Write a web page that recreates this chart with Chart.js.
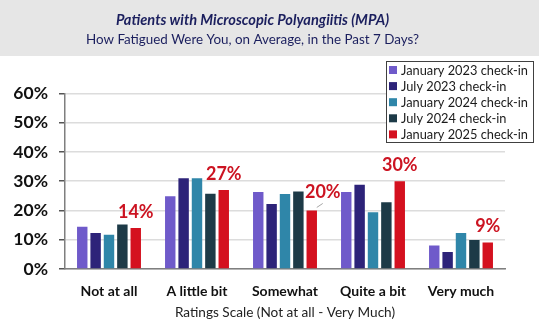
<!DOCTYPE html>
<html>
<head>
<meta charset="utf-8">
<script src="https://cdn.jsdelivr.net/npm/chart.js@4.4.1/dist/chart.umd.min.js"></script>
<style>
    html, body { margin: 0; padding: 0; background: #fff; }
    #wrap { position: relative; width: 539px; height: 331px; }
</style>
</head>
<body>
<div id="wrap"><canvas id="chart"></canvas></div>
<script>
// --- Data ---
const categories = ['Not at all', 'A little bit', 'Somewhat', 'Quite a bit', 'Very much'];
const seriesNames = [
    'January 2023 check-in',
    'July 2023 check-in',
    'January 2024 check-in',
    'July 2024 check-in',
    'January 2025 check-in'
];
const jan2023 = [14.4, 24.9, 26.3, 26.3, 8.0];
const jul2023 = [12.3, 31.0, 22.2, 28.8, 5.8];
const jan2024 = [11.7, 31.0, 25.6, 19.4, 12.3];
const jul2024 = [15.2, 25.7, 26.5, 22.8, 9.9];
const jan2025 = [14, 27, 20, 30, 9];
const yTicks = [0, 10, 20, 30, 40, 50, 60];

const colors = ['#6f5aca', '#2d2379', '#2f86a9', '#1d3a47', '#d4111f'];
const FONT = 'Lato, "Open Sans", sans-serif';

// --- Plugins ---
// grey header band behind the titles
const headerBand = {
    id: 'headerBand',
    beforeDraw(chart) {
        const ctx = chart.ctx;
        ctx.save();
        ctx.fillStyle = '#e6e6e6';
        ctx.fillRect(0, 0, chart.width, 56);
        ctx.restore();
    }
};

// red value labels on the latest check-in only
const valueLabels = {
    id: 'valueLabels',
    afterDatasetsDraw(chart) {
        const last = chart.data.datasets.length - 1;
        const meta = chart.getDatasetMeta(last);
        const ctx = chart.ctx;
        ctx.save();
        ctx.font = 'bold 18px ' + FONT;
        ctx.fillStyle = '#cc1422';
        ctx.textAlign = 'center';
        ctx.textBaseline = 'middle';
        meta.data.forEach((bar, i) => {
            const v = chart.data.datasets[last].data[i];
            let x = bar.x;
            let y = bar.y - 16;
            if (i === 2) {
                // label nudged right with a small leader line
                x += 11;
                y -= 2;
                ctx.strokeStyle = '#a6a6a6';
                ctx.lineWidth = 1;
                ctx.beginPath();
                ctx.moveTo(bar.x + 5, bar.y - 3);
                ctx.lineTo(bar.x + 11, bar.y - 7);
                ctx.stroke();
            }
            ctx.fillText(Math.round(v) + '%', x, y);
        });
        ctx.restore();
    }
};

// boxed legend in the top right corner
const boxLegend = {
    id: 'boxLegend',
    afterDraw(chart) {
        const ctx = chart.ctx;
        const left = 386.5, top = 61.5, w = 147, h = 81;
        ctx.save();
        ctx.fillStyle = '#fff';
        ctx.fillRect(left, top, w, h);
        ctx.strokeStyle = '#404040';
        ctx.lineWidth = 1;
        ctx.strokeRect(left, top, w, h);
        ctx.font = '12.8px ' + FONT;
        ctx.textBaseline = 'middle';
        ctx.textAlign = 'left';
        chart.data.datasets.forEach((ds, i) => {
            const y = 70 + i * 16.1;
            ctx.fillStyle = ds.backgroundColor;
            ctx.fillRect(389, y - 4, 8, 8);
            ctx.fillStyle = '#1a1a1a';
            ctx.fillText(ds.label, 401, y + 0.5);
        });
        ctx.restore();
    }
};

const series = [jan2023, jul2023, jan2024, jul2024, jan2025];

new Chart(document.getElementById('chart'), {
    type: 'bar',
    data: {
        labels: categories,
        datasets: series.map((data, i) => ({
            label: seriesNames[i],
            data: data,
            backgroundColor: colors[i],
            borderWidth: 0,
            categoryPercentage: 0.76,
            barPercentage: 0.78
        }))
    },
    options: {
        responsive: true,
        maintainAspectRatio: false,
        animation: false,
        layout: { padding: { left: 0, right: 34, top: 0, bottom: 10 } },
        plugins: {
            legend: { display: false },
            tooltip: { enabled: false },
            title: {
                display: true,
                text: 'Patients with Microscopic Polyangiitis (MPA)',
                color: '#1b1f5e',
                font: { family: FONT, size: 14.6, weight: 'bold', style: 'italic' },
                padding: { top: 12, bottom: 2 }
            },
            subtitle: {
                display: true,
                text: 'How Fatigued Were You, on Average, in the Past 7 Days?',
                color: '#1b1f5e',
                font: { family: FONT, size: 13.4 },
                padding: { top: 0, bottom: 46 }
            }
        },
        scales: {
            x: {
                grid: { display: false, drawTicks: false },
                border: { display: true, color: '#7f7f7f', width: 1.5 },
                ticks: {
                    color: '#111',
                    font: { family: FONT, size: 14, weight: 'bold' },
                    padding: 14
                },
                title: {
                    display: true,
                    text: 'Ratings Scale (Not at all - Very Much)',
                    color: '#222',
                    font: { family: FONT, size: 13.6 },
                    padding: { top: -9, bottom: 0 }
                }
            },
            y: {
                min: yTicks[0],
                max: yTicks[yTicks.length - 1],
                afterBuildTicks: (scale) => {
                    scale.ticks = yTicks.map(v => ({ value: v }));
                },
                afterFit: (scale) => { scale.width = 65; },
                grid: { color: '#dcdcdc', lineWidth: 1.5, tickLength: 6, tickColor: '#555' },
                border: { display: true, color: '#7f7f7f', width: 1.5 },
                ticks: {
                    color: '#111',
                    font: { family: FONT, size: 17.5, weight: 'bold' },
                    padding: 11,
                    callback: (value) => value + '%'
                }
            }
        }
    },
    plugins: [headerBand, valueLabels, boxLegend]
});
</script>
</body>
</html>
